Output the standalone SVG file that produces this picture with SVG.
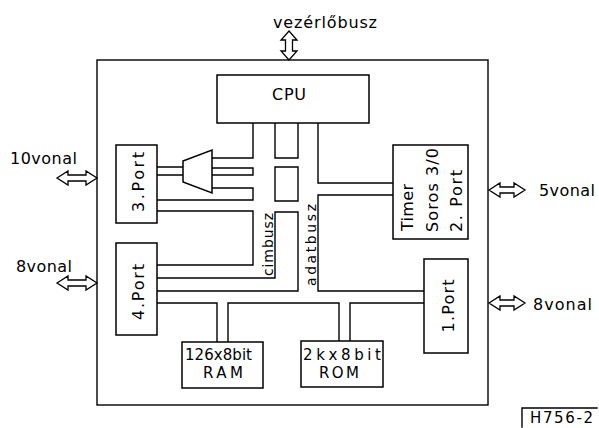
<svg xmlns="http://www.w3.org/2000/svg" width="599" height="428" viewBox="0 0 599 428">
<style>
.ln{fill:none;stroke:#000;stroke-width:1.4;stroke-linecap:square}
.bx{fill:#fff;stroke:#000;stroke-width:1.5}
.ar{fill:#fff;stroke:#000;stroke-width:1.3;stroke-linejoin:miter}
text{font-family:"DejaVu Sans","Liberation Sans",Arial,sans-serif;fill:#000}
.t{font-size:16px}
.m{font-size:15px}
.s{font-size:14px}
</style>
<rect width="599" height="428" fill="#fff"/>
<g id="frame">
<rect class="ln" x="97" y="60" width="391" height="345"/>
</g>
<g id="connectors">
<path class="ln" d="M253,123V158H212M253,168V175H212M212,168H253M212,188H253V200H157M157,211H253V265H157M275,123V158H298V123"/>
<path class="ln" d="M275,167H298V201H275Z"/>
<path class="ln" d="M157,278H275V212H298V291H157"/>
<path class="ln" d="M157,167H183M157,175H183"/>
<path class="ln" d="M318,123V183H393M393,195H318V291H424"/>
<path class="ln" d="M157,303H217V342M228,342V303H339V341M350,341V303H424"/>
<path class="ar" d="M289,31L297,40H292.5V51H297L289,60L281,51H285.5V40H281Z"/>
<path class="ar" d="M57,178L68,171V175H86V171L97,178L86,185V181H68V185Z"/>
<path class="ar" d="M57,283L68,276V280H86V276L97,283L86,290V286H68V290Z"/>
<path class="ar" d="M489,190L500,183V187H514V183L525,190L514,197V193H500V197Z"/>
<path class="ar" d="M489,303L500,296V300H514V296L525,303L514,310V306H500V310Z"/>
</g>
<g id="cpu">
<rect class="bx" x="217" y="75" width="152" height="48"/>
<text x="272" y="100" font-size="16" textLength="34" lengthAdjust="spacing">CPU</text>
</g>
<g id="mux">
<path class="bx" d="M183,161L212,150V193L183,182Z"/>
</g>
<g id="port3">
<rect class="bx" x="116" y="145" width="41" height="78"/>
<text class="t" transform="translate(144,182) rotate(-90)" text-anchor="middle" textLength="60" lengthAdjust="spacing">3.Port</text>
</g>
<g id="port4">
<rect class="bx" x="116" y="243" width="41" height="92"/>
<text class="t" transform="translate(144,292) rotate(-90)" text-anchor="middle" textLength="56" lengthAdjust="spacing">4.Port</text>
</g>
<g id="port1">
<rect class="bx" x="424" y="259" width="44" height="94"/>
<text class="t" transform="translate(454,306) rotate(-90)" text-anchor="middle" textLength="53" lengthAdjust="spacing">1.Port</text>
</g>
<g id="timer">
<rect class="bx" x="393" y="145" width="75" height="94"/>
<text class="t" transform="translate(413,231) rotate(-90)" textLength="47" lengthAdjust="spacing">Timer</text>
<text class="t" transform="translate(438,232) rotate(-90)" textLength="84" lengthAdjust="spacing">Soros 3/0</text>
<text class="t" transform="translate(462,232) rotate(-90)" textLength="62" lengthAdjust="spacing">2. Port</text>
</g>
<g id="ram">
<rect class="bx" x="182" y="342" width="81" height="46"/>
<text class="m" x="185" y="360" textLength="67" lengthAdjust="spacing">126x8bit</text>
<text class="m" x="223" y="378" text-anchor="middle" textLength="40" lengthAdjust="spacing">RAM</text>
</g>
<g id="rom">
<rect class="bx" x="301" y="341" width="82" height="46"/>
<text class="m" x="303" y="360" textLength="78" lengthAdjust="spacing">2kx8bit</text>
<text class="m" x="339" y="378" text-anchor="middle" textLength="40" lengthAdjust="spacing">ROM</text>
</g>
<g id="labels">
<text class="t" x="273" y="28" textLength="104" lengthAdjust="spacing">vezérlőbusz</text>
<text class="s" transform="translate(273,276) rotate(-90)" textLength="63" lengthAdjust="spacing">cimbusz</text>
<text class="s" transform="translate(316,286) rotate(-90)" textLength="82" lengthAdjust="spacing">adatbusz</text>
<text class="t" x="10" y="164" textLength="67" lengthAdjust="spacing">10vonal</text>
<text class="t" x="16" y="272" textLength="56" lengthAdjust="spacing">8vonal</text>
<text class="t" x="539" y="196" textLength="56" lengthAdjust="spacing">5vonal</text>
<text class="t" x="533" y="310" textLength="59" lengthAdjust="spacing">8vonal</text>
</g>
<g id="tag">
<path class="ln" d="M522,427V408H597"/>
<text class="m" x="530" y="423" textLength="63" lengthAdjust="spacing">H756-2</text>
</g>
</svg>
